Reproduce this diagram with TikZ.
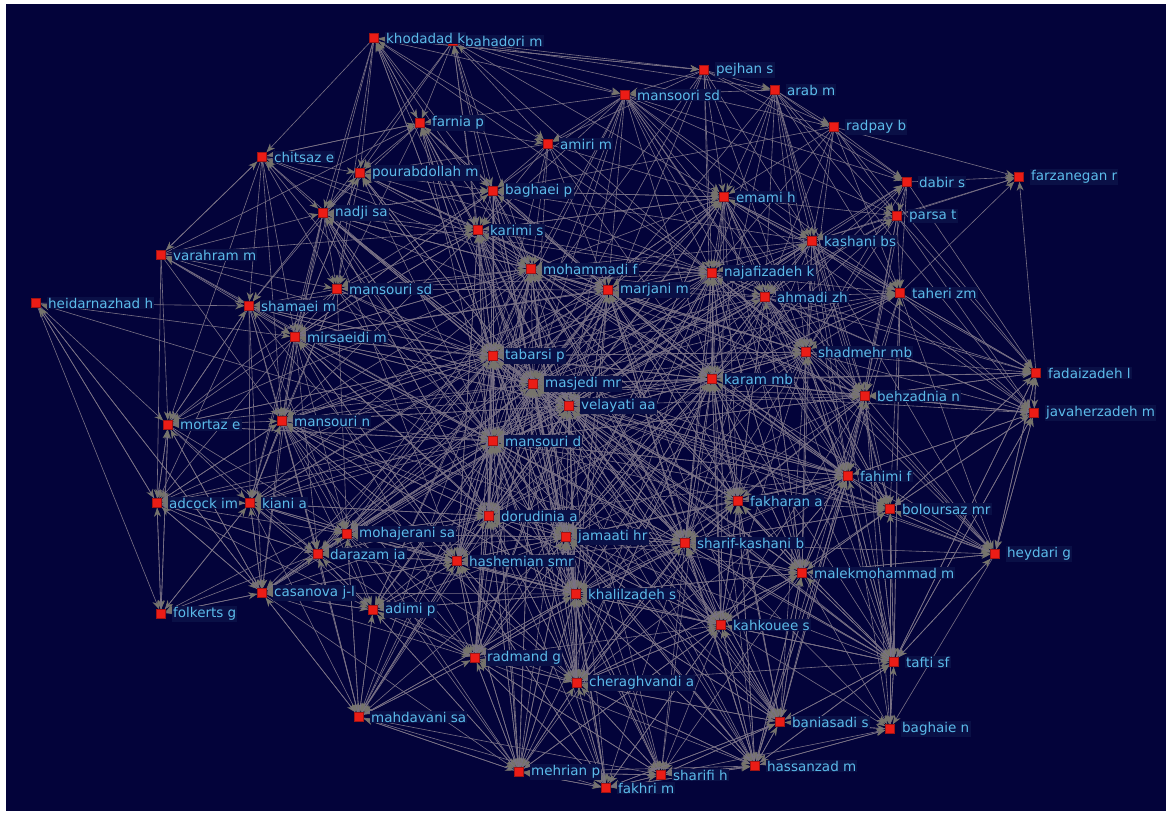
\documentclass[tikz,border=0pt]{standalone}
\usepackage{fontspec}
\setmainfont{DejaVu Sans}
\usetikzlibrary{arrows.meta}
\definecolor{bgnavy}{RGB}{3,3,58}
\definecolor{labnavy}{RGB}{10,16,70}
\definecolor{labblue}{RGB}{92,188,235}
\definecolor{linkgray}{RGB}{122,114,134}
\definecolor{tipgray}{RGB}{118,116,108}
\definecolor{nodered}{RGB}{235,28,22}
\definecolor{nodedark}{RGB}{160,20,20}
\pgfdeclarelayer{back}
\pgfdeclarelayer{links}
\pgfsetlayers{back,links,main}

\begin{document}
\begin{tikzpicture}[x=1pt,y=-1pt,
  sq/.style={rectangle,fill=nodered,draw=nodedark,line width=0.5pt,minimum size=9pt,inner sep=0pt},
  every label/.style={fill=labnavy,text=labblue,inner sep=1.2pt,font=\fontsize{13.5}{15}\selectfont},
  label distance=6pt,
  link/.style={draw=linkgray,line width=0.6pt,-{Stealth[length=9pt,width=7pt,color=tipgray]}}]
\useasboundingbox (0,0) rectangle (1171,816);
\begin{pgfonlayer}{back}
\fill[bgnavy] (6,4) rectangle (1166,811);
\end{pgfonlayer}

\node[sq,label=right:{bahadori m}] (baha) at (453,41) {};
\node[sq,label=right:{khodadad k}] (khod) at (374,38) {};
\node[sq,label=right:{pejhan s}] (pejh) at (704,70) {};
\node[sq,label=right:{mansoori sd}] (manso) at (625,95) {};
\node[sq,label=right:{arab m}] (arab) at (775,90) {};
\node[sq,label=right:{radpay b}] (radp) at (834,127) {};
\node[sq,label=right:{farnia p}] (farn) at (420,123) {};
\node[sq,label=right:{amiri m}] (amir) at (548,144) {};
\node[sq,label=right:{chitsaz e}] (chit) at (262,157) {};
\node[sq,label=right:{pourabdollah m}] (pour) at (360,173) {};
\node[sq,label=right:{baghaei p}] (bagp) at (493,191) {};
\node[sq,label=right:{emami h}] (emam) at (724,197) {};
\node[sq,label=right:{dabir s}] (dabi) at (907,182) {};
\node[sq,label=right:{farzanegan r}] (farz) at (1019,177) {};
\node[sq,label=right:{parsa t}] (pars) at (897,216) {};
\node[sq,label=right:{nadji sa}] (nadj) at (323,213) {};
\node[sq,label=right:{karimi s}] (kari) at (478,230) {};
\node[sq,label=right:{kashani bs}] (kash) at (812,241) {};
\node[sq,label=right:{varahram m}] (vara) at (161,255) {};
\node[sq,label=right:{mohammadi f}] (moha) at (531,269) {};
\node[sq,label=right:{najafizadeh k}] (naja) at (712,273) {};
\node[sq,label=right:{marjani m}] (marj) at (608,290) {};
\node[sq,label=right:{ahmadi zh}] (ahma) at (765,297) {};
\node[sq,label=right:{taheri zm}] (tahe) at (900,293) {};
\node[sq,label=right:{mansouri sd}] (mansd) at (337,289) {};
\node[sq,label=right:{heidarnazhad h}] (heid) at (36,303) {};
\node[sq,label=right:{shamaei m}] (sham) at (249,306) {};
\node[sq,label=right:{mirsaeidi m}] (mirs) at (295,337) {};
\node[sq,label=right:{tabarsi p}] (taba) at (493,356) {};
\node[sq,label=right:{shadmehr mb}] (shad) at (806,352) {};
\node[sq,label=right:{masjedi mr}] (masj) at (533,384) {};
\node[sq,label=right:{karam mb}] (kara) at (712,379) {};
\node[sq,label=right:{velayati aa}] (vela) at (569,406) {};
\node[sq,label=right:{behzadnia n}] (behz) at (865,396) {};
\node[sq,label=right:{fadaizadeh l}] (fada) at (1036,373) {};
\node[sq,label=right:{javaherzadeh m}] (java) at (1034,413) {};
\node[sq,label=right:{mortaz e}] (mort) at (168,425) {};
\node[sq,label=right:{mansouri n}] (mann) at (282,421) {};
\node[sq,label=right:{mansouri d}] (mand) at (493,441) {};
\node[sq,label=right:{fahimi f}] (fahi) at (848,476) {};
\node[sq,label=right:{fakharan a}] (fakh) at (738,501) {};
\node[sq,label=right:{boloursaz mr}] (bolo) at (890,509) {};
\node[sq,label=right:{adcock im}] (adco) at (157,503) {};
\node[sq,label=right:{kiani a}] (kian) at (250,503) {};
\node[sq,label=right:{dorudinia a}] (doru) at (489,516) {};
\node[sq,label=right:{mohajerani sa}] (mohj) at (347,534) {};
\node[sq,label=right:{jamaati hr}] (jama) at (566,537) {};
\node[sq,label=right:{sharif-kashani b}] (shar) at (685,543) {};
\node[sq,label=right:{darazam ia}] (dara) at (318,554) {};
\node[sq,label=right:{hashemian smr}] (hash) at (457,561) {};
\node[sq,label=right:{heydari g}] (heyd) at (995,554) {};
\node[sq,label=right:{malekmohammad m}] (malk) at (802,573) {};
\node[sq,label=right:{casanova j-l}] (casa) at (262,593) {};
\node[sq,label=right:{khalilzadeh s}] (khal) at (576,594) {};
\node[sq,label=right:{folkerts g}] (folk) at (161,614) {};
\node[sq,label=right:{adimi p}] (adim) at (373,610) {};
\node[sq,label=right:{kahkouee s}] (kahk) at (721,625) {};
\node[sq,label=right:{radmand g}] (radm) at (475,658) {};
\node[sq,label=right:{tafti sf}] (taft) at (894,662) {};
\node[sq,label=right:{cheraghvandi a}] (cher) at (577,683) {};
\node[sq,label=right:{mahdavani sa}] (mahd) at (359,717) {};
\node[sq,label=right:{baniasadi s}] (bani) at (780,722) {};
\node[sq,label=right:{baghaie n}] (bagn) at (890,729) {};
\node[sq,label=right:{mehrian p}] (mehr) at (519,772) {};
\node[sq,label=right:{hassanzad m}] (hass) at (755,766) {};
\node[sq,label=right:{sharifi h}] (shrf) at (661,775) {};
\node[sq,label=right:{fakhri m}] (fakm) at (606,788) {};

\begin{pgfonlayer}{links}
\foreach \s/\tl in {
  khod/{baha,farn,pour,nadj,kari,bagp,chit,mansd,mirs,taba,pejh,manso,amir},
  baha/{farn,bagp,kari,amir,nadj,pejh,arab,radp,manso,pour,emam,moha},
  pejh/{manso,arab,radp,emam,naja,kash,dabi,khod,amir,taba,masj,vela,kara,shad},
  manso/{amir,bagp,emam,naja,marj,moha,kari,dabi,kash,pars,tahe,farn,taba,masj,vela,mand,kara,shad,ahma,fahi,behz},
  arab/{radp,dabi,pars,kash,emam,naja,ahma,manso,tahe,shad,kara,masj,fahi,behz,bolo,java},
  radp/{farz,dabi,pars,kash,tahe,emam,naja,ahma,fada,shad,bagp},
  farn/{pour,bagp,kari,amir,nadj,chit,moha,taba,mansd,masj,marj},
  amir/{bagp,kari,moha,marj,naja,emam,taba,pour,masj,kara},
  chit/{nadj,pour,sham,mansd,mirs,vara,farn,kari,mort,mann},
  pour/{nadj,bagp,kari,mansd,moha,taba,sham,mirs,masj,marj},
  bagp/{kari,moha,marj,taba,masj,emam,naja,vela,mand,kara,nadj,mansd,mirs,doru,jama,shar,khal},
  emam/{naja,kash,marj,ahma,kara,tahe,pars,shad,masj,taba,behz,bagp,kari,moha,vela,mand,doru,jama,shar,fakh,fahi,malk,kahk,bolo,java,fada},
  dabi/{pars,farz,kash,tahe,fada,behz,ahma,shad},
  pars/{farz,tahe,kash,fada,java,behz,shad,ahma,fahi},
  nadj/{mansd,sham,mirs,kari,taba,masj,moha,mann,mand,vela,kian,doru,pour,bagp,marj,kara,jama,hash,khal},
  kari/{moha,marj,taba,masj,mand,vela,naja,kara,doru,jama,emam,mansd,mirs,mann,hash,khal,shar,fakh,cher},
  kash/{naja,ahma,tahe,shad,kara,behz,fada,farz,marj,fahi,java,emam,bagp,moha,masj,vela,mand,jama,shar,malk,bolo,heyd,taft},
  vara/{chit,nadj,sham,mirs,mansd,mort,farn,adco,mann,kari},
  moha/{marj,taba,masj,vela,mand,naja,kara,doru,jama,hash,khal,shar,khod,chit,sham,mirs,mann,mort,kian,dara,mohj,adim,radm,cher,kahk,malk,fakh,fahi,behz,shad},
  naja/{marj,ahma,kara,shad,tahe,behz,masj,vela,mand,fahi,fakh,shar,taba,khod,baha,pour,nadj,mansd,mirs,mann,doru,jama,khal,kahk,malk,bolo,taft,heyd,java,fada,cher,radm},
  marj/{taba,masj,vela,kara,mand,ahma,shad,jama,doru,khal,shar,fakh,pour,nadj,mansd,mirs,mann,kian,dara,mohj,hash,adim,radm,cher,kahk,malk,bani,hass,fahi,behz,bolo},
  ahma/{tahe,shad,kara,behz,fahi,vela,masj,bolo,fakh,malk,moha,taba,mand,doru,jama,shar,kahk,taft,heyd,java,fada},
  tahe/{farz,fada,java,behz,shad,fahi,bolo,heyd,taft,kara},
  mansd/{sham,mirs,taba,masj,mann,mand,kian,mort,doru,mohj,moha},
  heid/{adco,casa,mirs,mort,sham,folk},
  sham/{mirs,mann,mort,kian,adco,taba,mand,dara,mohj,casa,masj},
  mirs/{taba,masj,mann,mand,kian,mort,adco,dara,mohj,doru,hash,casa,vela,moha,marj,kari,bagp,pour,jama,khal,shar,radm},
  taba/{masj,vela,mand,doru,jama,kara,hash,khal,shar,mann,mohj,dara,adim,radm,cher,fakh,kahk,malk,khod,baha,farn,pour,nadj,chit,sham,vara,mort,adco,kian,casa,mahd,mehr,shrf,hass,bani,taft,fahi,shad,tahe,emam,naja},
  shad/{kara,behz,fahi,fakh,bolo,java,fada,malk,shar,heyd,vela,masj,naja,marj,moha,taba,mand,doru,jama,khal,kahk,taft,bani},
  masj/{vela,mand,kara,doru,jama,hash,khal,shar,fakh,fahi,mohj,adim,radm,cher,kahk,malk,bolo,behz,khod,baha,pour,nadj,mirs,sham,mort,kian,casa,mahd,mehr,fakm,shrf,hass,bani,taft,heyd,java,fada,tahe,kash,emam},
  kara/{behz,fahi,fakh,shar,jama,vela,mand,malk,kahk,bolo,khal,cher,java,farn,bagp,kari,moha,taba,masj,mirs,mann,doru,hash,radm,mehr,shrf,hass,bani,taft,heyd,fada,tahe,pars,dabi},
  vela/{mand,doru,jama,shar,fakh,khal,hash,fahi,kahk,malk,radm,cher,mohj,dara,farn,kari,nadj,mirs,mann,kian,adco,casa,mahd,mehr,fakm,shrf,hass,bani,bagn,taft,bolo,heyd,behz,tahe,pars,kash,dabi},
  behz/{fada,java,fahi,bolo,heyd,taft,malk,fakh,shar,naja,kara,marj,mand,jama,khal,kahk,bani,hass,bagn},
  fada/{farz,java,heyd,bolo,taft,behz},
  java/{heyd,bolo,taft,fahi,behz,fada},
  mort/{mann,adco,kian,folk,casa,dara,mohj,taba,mand,sham},
  mann/{kian,adco,mohj,dara,casa,mand,doru,hash,adim,taba,masj,mahd,jama,khal,radm,cher,mehr,shar,vela},
  mand/{doru,jama,hash,khal,shar,mohj,dara,adim,radm,cher,kahk,fakh,casa,kian,mahd,farn,pour,chit,vara,mort,adco,folk,heid,mehr,fakm,shrf,hass,bani,taft,bolo,fahi,behz,shad,ahma,kash},
  fahi/{bolo,fakh,shar,malk,heyd,taft,kahk,java,bani,khal,kara,vela,masj,mand,jama,doru,cher,hass,bagn},
  fakh/{shar,malk,kahk,bolo,khal,jama,cher,bani,hass,taft,kara,vela,masj,naja,marj,moha,fahi},
  bolo/{heyd,taft,malk,bagn,kahk,java,fada,shar},
  adco/{folk,kian,casa,dara,mohj,mort,heid,mann,adim},
  kian/{casa,dara,mohj,adco,folk,mann,hash,adim,mahd,doru},
  doru/{jama,hash,khal,mohj,dara,adim,radm,cher,shar,mahd,mehr,kahk,taba,masj,vela,mand,moha,kari,nadj,mirs,mann,kian,casa},
  mohj/{dara,hash,casa,adim,radm,mahd,khal,jama,kian,doru,taba,masj,vela,mand,cher,mehr},
  jama/{shar,khal,hash,cher,radm,kahk,malk,fakh,doru,mehr,fakm,taba,masj,vela,moha,marj,kara,naja,emam,mohj,dara,adim,mahd,hass,bani,taft},
  shar/{malk,kahk,khal,heyd,cher,bani,taft,hass,fakh,shrf,bolo,jama,taba,masj,vela,mand,marj,moha,kara,naja,doru,hash,radm,mehr,fakm},
  dara/{casa,adim,mahd,hash,radm,mohj,kian,adco,folk},
  hash/{khal,radm,adim,cher,mahd,mehr,casa,dara,jama,fakm,kahk,taba,masj,vela,mand,doru,moha,kari,mirs,mann,sham},
  heyd/{taft,bolo,java,fada,bagn,malk},
  malk/{kahk,taft,bani,bagn,hass,heyd,khal,cher,shrf,bolo,shar,fakh,fahi,kara,naja,shad,behz,ahma},
  casa/{folk,adco,adim,mahd,dara,kian,mohj,radm,mehr,hash,mort,heid},
  khal/{cher,radm,kahk,mehr,fakm,shrf,hass,bani,adim,hash,malk,mahd,taft,taba,masj,vela,mand,doru,jama,moha,marj,kara,mohj,dara,casa,kian,mann},
  folk/{adco,casa,mort,kian},
  adim/{mahd,radm,casa,dara,mehr,khal,cher,hash},
  kahk/{taft,bani,bagn,hass,shrf,cher,malk,fakm,mehr,khal,shar,fakh,fahi,kara,vela,masj,jama,doru},
  radm/{mehr,cher,fakm,shrf,mahd,khal,adim,hass,kahk,taba,masj,vela,mand,doru,hash,jama,shar},
  taft/{bagn,heyd,bolo,bani,hass,malk,java,fada,kahk,shar,fakh,fahi,behz,tahe,shad},
  cher/{fakm,shrf,mehr,hass,radm,khal,bani,kahk,taft,taba,masj,vela,mand,doru,jama,hash,shar,malk,fakh,kara},
  mahd/{mehr,casa,adim,dara,radm,fakm,mohj,khal,hash,shrf},
  bani/{bagn,hass,taft,kahk,malk,shrf,fakm,cher,shar,fakh,fahi,jama,khal},
  bagn/{taft,bani,hass},
  mehr/{fakm,shrf,mahd,radm,cher,hass,khal,kahk,adim,hash,doru,jama,mand,masj},
  hass/{bagn,bani,taft,shrf,kahk,cher,malk,fakm,shar,fakh,fahi,jama,khal},
  shrf/{fakm,hass,cher,bani,bagn,khal,radm,mehr},
  fakm/{mehr,shrf,cher,hass,radm,khal,kahk,bani,jama,doru,hash}}
  \foreach \t in \tl
    \draw[link] (\s) -- (\t);
\end{pgfonlayer}
\end{tikzpicture}
\end{document}
